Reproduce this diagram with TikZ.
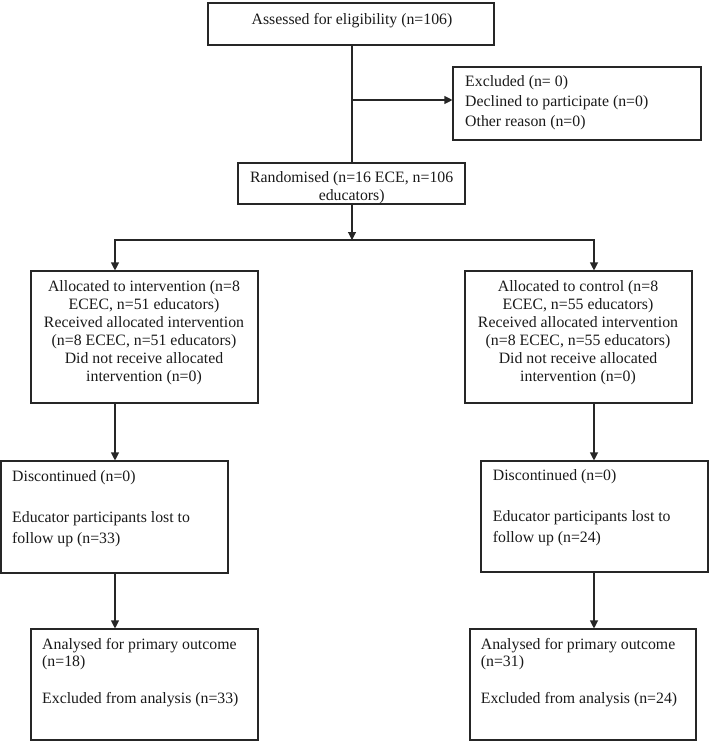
\documentclass[tikz,border=0pt]{standalone}
\usepackage{fontspec}
\setmainfont{Liberation Serif}
\usetikzlibrary{arrows.meta}
\begin{document}
\begin{tikzpicture}[x=1pt,y=-1pt,
  box/.style={draw=black!85, line width=1.1pt, inner sep=0pt},
  txt/.style={font=\fontsize{15.8}{18}\selectfont, inner sep=0pt, align=center, text=black!90},
  conn/.style={draw=black!85, line width=1.1pt},
  arr/.style={conn, -{Triangle[length=8pt,width=8pt]}},
  dblarr/.style={conn, {Triangle[length=8pt,width=8pt]}-{Triangle[length=8pt,width=8pt]}}]
\useasboundingbox (0,0) rectangle (709,741);

% boxes
\node[box, minimum width=286pt, minimum height=42pt] (elig) at (351,24) {};
\node[txt, anchor=north] (eligT) at (352,12.8) {Assessed for eligibility (n=106)};

\node[box, minimum width=248pt, minimum height=73pt] (excl) at (577,103.5) {};
\node[txt, align=left, anchor=north west, font=\fontsize{15.8}{20}\selectfont] (exclT) at (465,75.8)
  {Excluded (n= 0)\\Declined to participate (n=0)\\Other reason (n=0)};

\node[box, minimum width=227pt, minimum height=41pt] (rand) at (351.5,183.5) {};
\node[txt, anchor=north] (randT) at (351.7,171.8) {Randomised (n=16 ECE, n=106\\educators)};

\node[box, minimum width=227pt, minimum height=132pt] (allocL) at (144.5,337) {};
\node[txt, anchor=north] (allocLT) at (144,280)
  {Allocated to intervention (n=8\\ECEC, n=51 educators)\\Received allocated intervention\\(n=8 ECEC, n=51 educators)\\Did not receive allocated\\intervention (n=0)};

\node[box, minimum width=227pt, minimum height=132pt] (allocR) at (578.5,337) {};
\node[txt, anchor=north] (allocRT) at (578,280)
  {Allocated to control (n=8\\ECEC, n=55 educators)\\Received allocated intervention\\(n=8 ECEC, n=55 educators)\\Did not receive allocated\\intervention (n=0)};

\node[box, minimum width=227pt, minimum height=112pt] (discL) at (114.5,517) {};
\node[txt, align=left, anchor=north west, font=\fontsize{15.8}{21.7}\selectfont] (discLT) at (12,470)
  {Discontinued (n=0)\\[19.3pt]Educator participants lost to\\follow up (n=33)};

\node[box, minimum width=227pt, minimum height=111pt] (discR) at (594.5,516.5) {};
\node[txt, align=left, anchor=north west, font=\fontsize{15.8}{21.7}\selectfont] (discRT) at (492.7,469)
  {Discontinued (n=0)\\[19.3pt]Educator participants lost to\\follow up (n=24)};

\node[box, minimum width=227pt, minimum height=111pt] (anL) at (144.5,684.5) {};
\node[txt, align=left, anchor=north west, font=\fontsize{15.8}{17.3}\selectfont] (anLT) at (42,638)
  {Analysed for primary outcome\\(n=18)\\[19.4pt]Excluded from analysis (n=33)};

\node[box, minimum width=226pt, minimum height=111pt] (anR) at (583,684.5) {};
\node[txt, align=left, anchor=north west, font=\fontsize{15.8}{17.3}\selectfont] (anRT) at (480.7,638)
  {Analysed for primary outcome\\(n=31)\\[19.4pt]Excluded from analysis (n=24)};

% junction points
\coordinate (j1) at (352,100);
\coordinate (j2) at (352,240);
\coordinate (bL) at (115,240);
\coordinate (bR) at (594,240);

% connectors
\draw[conn] (elig.south -| j1) -- (rand.north -| j1);
\draw[arr] (j1) -- (j1 -| excl.west);
\draw[arr] (rand.south -| j2) -- (j2);
\draw[dblarr] (bL |- allocL.north) -- (bL) -- (bR) -- (bR |- allocR.north);
\draw[arr] (bL |- allocL.south) -- (bL |- discL.north);
\draw[arr] (bR |- allocR.south) -- (bR |- discR.north);
\draw[arr] (bL |- discL.south) -- (bL |- anL.north);
\draw[arr] (bR |- discR.south) -- (bR |- anR.north);
\end{tikzpicture}
\end{document}
